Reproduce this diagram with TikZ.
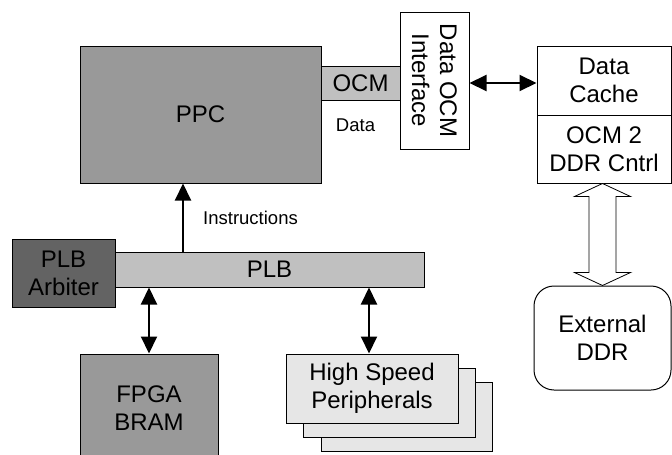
\documentclass[tikz,border=0pt]{standalone}
\usepackage{fontspec}
\setmainfont{Liberation Sans}
\usetikzlibrary{arrows.meta,calc}
\definecolor{midgray}{HTML}{999999}
\definecolor{lightgray}{HTML}{C0C0C0}
\definecolor{darkgray}{HTML}{636363}
\definecolor{perif}{HTML}{E6E6E6}
\begin{document}
\begin{tikzpicture}[x=1pt,y=-1pt,
 box/.style={draw=black,line width=1pt,inner sep=0pt,align=center,font=\fontsize{24}{28}\selectfont},
 lbl/.style={inner sep=0pt,font=\fontsize{18.5}{22}\selectfont},
 conn/.style={line width=2pt,-{Triangle[length=17pt,width=16pt]}},
 biconn/.style={line width=2pt,{Triangle[length=17pt,width=16pt]}-{Triangle[length=17pt,width=16pt]}},
 hollow/.style={draw=black,line width=0.8pt,fill=white}
]
\useasboundingbox (0,0) rectangle (672,455);
\clip (0,0) rectangle (672,455);
% top row
\node[box,fill=midgray,minimum width=241pt,minimum height=137pt] (ppc) at (200.5,114.5) {PPC};
\node[box,fill=lightgray,minimum width=79pt,minimum height=34pt] (ocm) at (360.5,83) {OCM};
\node[lbl] (dlbl) at (355.5,125) {Data};
\node[box,fill=white,minimum width=69pt,minimum height=137pt] (iface) at (434.5,80.5) {};
\node[box,draw=none,rotate=-90] (ifacetxt) at (iface.center) {Data OCM\\Interface};
\node[box,fill=white,minimum width=134pt,minimum height=69pt] (cache) at (604,80.5) {Data\\Cache};
\node[box,fill=white,minimum width=134pt,minimum height=68pt] (cntrl) at (604,149) {OCM 2\\DDR Cntrl};
\node[box,fill=white,rounded corners=20pt,minimum width=137pt,minimum height=104pt] (ext) at (602.5,338) {External\\DDR};
% bus row
\node[box,fill=darkgray,minimum width=103pt,minimum height=68pt] (arb) at (63.5,273) {PLB\\Arbiter};
\node[box,fill=lightgray,minimum width=309pt,minimum height=35pt] (plb) at (269.5,269.5) {PLB};
\node[lbl,anchor=west] (instr) at (203,218) {Instructions};
% bottom row
\node[box,fill=midgray,minimum width=138pt,minimum height=108pt] (bram) at (149,408) {FPGA\\BRAM};
\node[box,fill=perif,minimum width=171pt,minimum height=69pt] (p3) at (406.5,416.5) {};
\node[box,fill=perif,minimum width=172pt,minimum height=69pt] (p2) at (389,402.5) {};
\node[box,fill=perif,minimum width=172pt,minimum height=69pt] (p1) at (372,388.5) {High Speed\\Peripherals};
% connectors
\coordinate (instrx) at (183,0);
\coordinate (perx) at (369,0);
\draw[conn] (plb.north -| instrx) -- (ppc.south -| instrx);
\draw[biconn] (plb.south -| bram) -- (bram.north);
\draw[biconn] (plb.south -| perx) -- (p1.north -| perx);
\draw[biconn] (iface.east |- ocm) -- (cache.west |- ocm);
% hollow double arrow
\coordinate (t) at (cntrl.south -| ext.north);
\coordinate (b) at (ext.north);
\draw[hollow] (t) -- ($(t)+(28,13)$) -- ($(t)+(13.5,13)$) -- ($(b)+(13.5,-13)$) -- ($(b)+(28,-13)$) -- (b)
  -- ($(b)+(-28,-13)$) -- ($(b)+(-13.5,-13)$) -- ($(t)+(-13.5,13)$) -- ($(t)+(-28,13)$) -- cycle;
\end{tikzpicture}
\end{document}
